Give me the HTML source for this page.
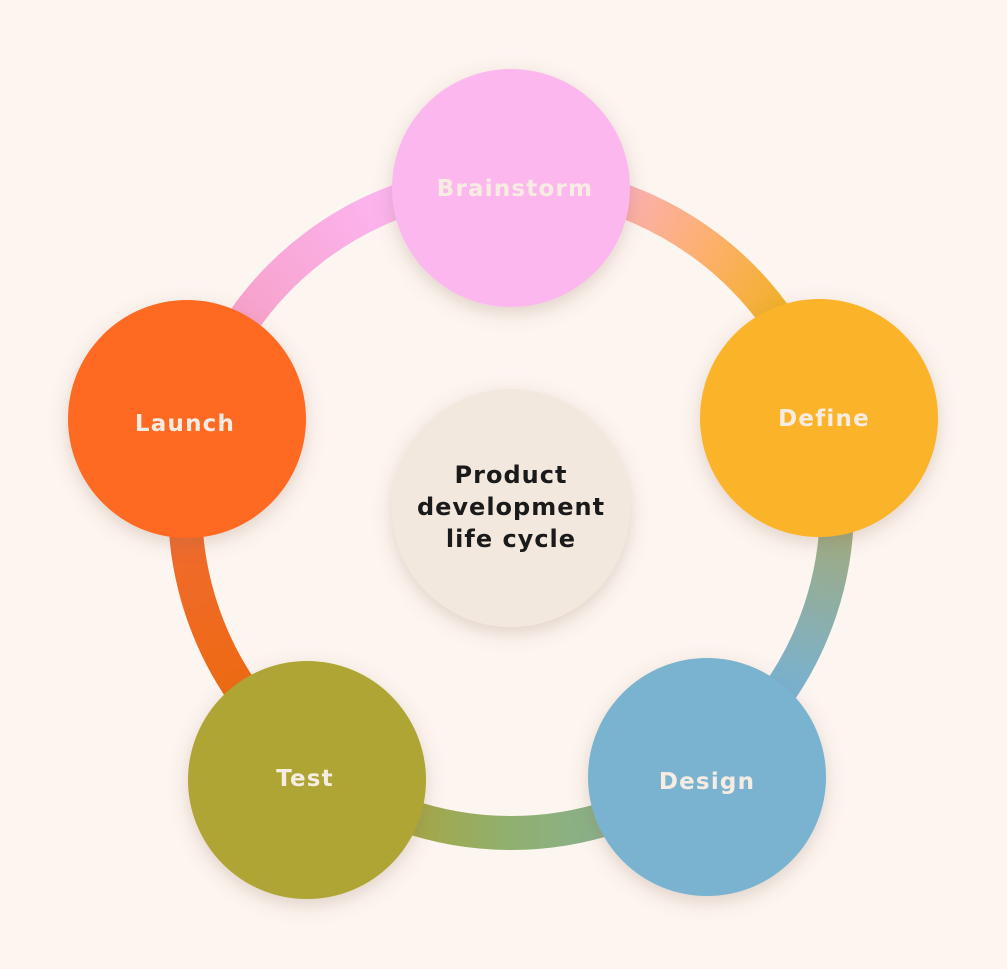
<!DOCTYPE html>
<html><head><meta charset="utf-8"><style>
html,body{margin:0;padding:0;background:#fdf5f0;}
svg{display:block}
text{font-family:"DejaVu Sans",sans-serif;font-weight:bold;}
</style></head><body>
<svg width="1007" height="969" viewBox="0 0 1007 969">
<defs>
<filter id="sh" x="-30%" y="-30%" width="160%" height="160%">
<feDropShadow dx="0" dy="6" stdDeviation="9" flood-color="#8a6a50" flood-opacity="0.25"/>
</filter>
<linearGradient id="g1" gradientUnits="userSpaceOnUse" x1="600" y1="200" x2="790" y2="320"><stop offset="0" stop-color="#fbb0c0"/><stop offset="0.5" stop-color="#fdb070"/><stop offset="1" stop-color="#f0b020"/></linearGradient>
<linearGradient id="g2" gradientUnits="userSpaceOnUse" x1="830" y1="530" x2="780" y2="690"><stop offset="0" stop-color="#a0ab80"/><stop offset="1" stop-color="#78b2d2"/></linearGradient>
<linearGradient id="g3" gradientUnits="userSpaceOnUse" x1="620" y1="820" x2="400" y2="820"><stop offset="0" stop-color="#88b090"/><stop offset="0.5" stop-color="#90b070"/><stop offset="1" stop-color="#a8a640"/></linearGradient>
<linearGradient id="g4" gradientUnits="userSpaceOnUse" x1="240" y1="700" x2="180" y2="520"><stop offset="0" stop-color="#ee6a10"/><stop offset="1" stop-color="#f06a30"/></linearGradient>
<linearGradient id="g5" gradientUnits="userSpaceOnUse" x1="230" y1="320" x2="420" y2="190"><stop offset="0" stop-color="#f7a0c8"/><stop offset="1" stop-color="#fdb8f6"/></linearGradient>
</defs>
<g fill="none" stroke-width="34">
<path d="M511 181 A326 326 0 0 1 823.4 413.9" stroke="url(#g1)"/>
<path d="M823.4 413.9 A326 326 0 0 1 704 769.7" stroke="url(#g2)"/>
<path d="M704 769.7 A326 326 0 0 1 314.8 767.3" stroke="url(#g3)"/>
<path d="M314.8 767.3 A326 326 0 0 1 197.2 418.8" stroke="url(#g4)"/>
<path d="M197.2 418.8 A326 326 0 0 1 511 181" stroke="url(#g5)"/>
</g>
<g filter="url(#sh)">
<circle cx="511" cy="188" r="119" fill="#fcb8ee"/>
<circle cx="819" cy="418" r="119" fill="#fbb32c"/>
<circle cx="707" cy="777" r="119" fill="#7ab3d0"/>
<circle cx="307" cy="780" r="119" fill="#aea534"/>
<circle cx="187" cy="419" r="119" fill="#fe6a22"/>
<circle cx="511" cy="508" r="119" fill="#f3e8de"/>
</g>
<g fill="#f6ece2" font-size="23" letter-spacing="1.2" text-anchor="middle">
<text x="515" y="196">Brainstorm</text>
<text x="824" y="426">Define</text>
<text x="707" y="789">Design</text>
<text x="305" y="786">Test</text>
<text x="185" y="431">Launch</text>
</g>
<g fill="#1a1a1a" font-size="24" letter-spacing="1" text-anchor="middle">
<text x="511" y="483">Product</text>
<text x="511" y="515">development</text>
<text x="511" y="547">life cycle</text>
</g>
</svg>
</body></html>
